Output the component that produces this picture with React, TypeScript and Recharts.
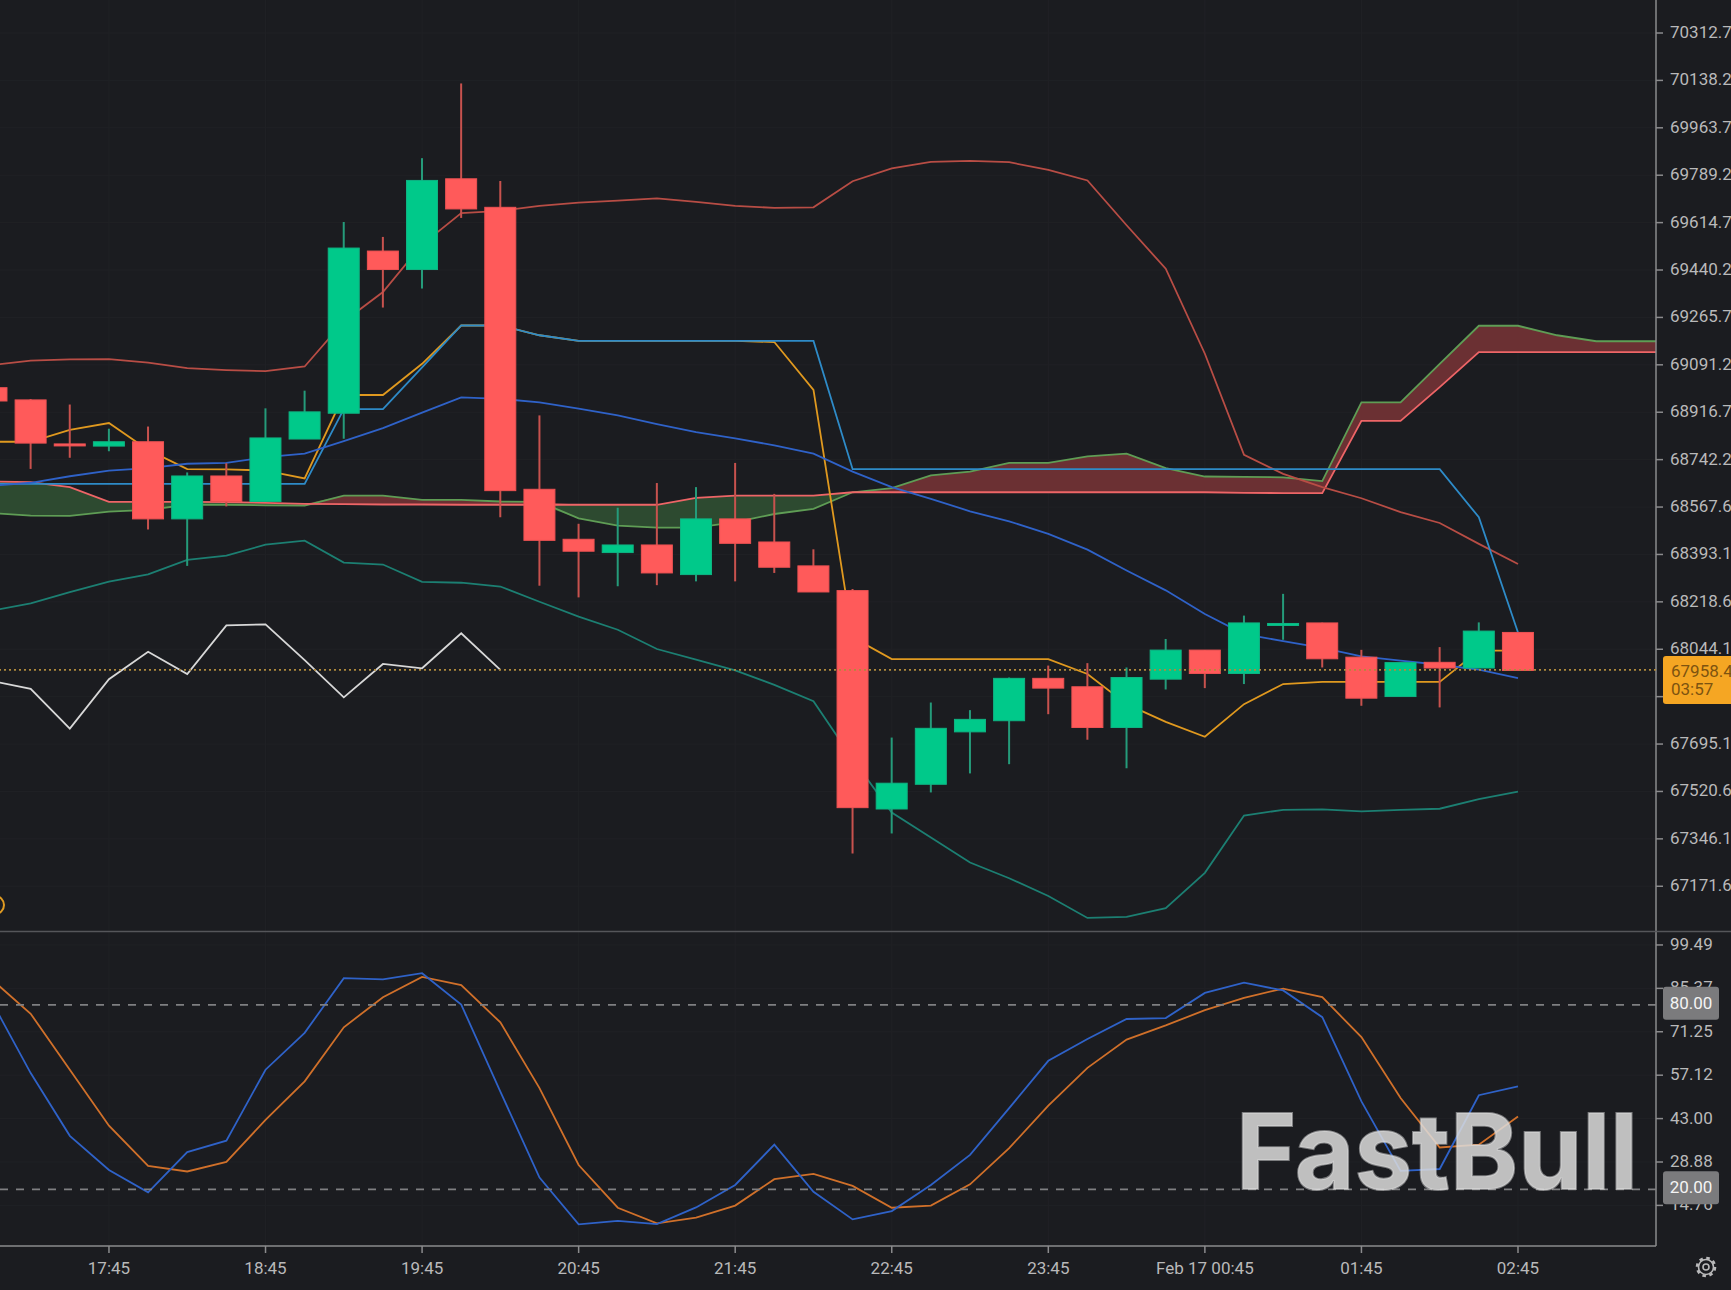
// BTC 15m chart: candles + Bollinger + Ichimoku, stochastic pane below
import React from "react";
import {
  ComposedChart,
  Bar,
  Line,
  Area,
  XAxis,
  YAxis,
  CartesianGrid,
  ReferenceLine,
} from "recharts";

// ─── Candles (index 39 is the 02:45 bar) ──────────────────────────────────────

const opens = [69007, 68962, 68800, 68792, 68808, 68524, 68682, 68588, 68818, 68913, 69510, 69442, 69776, 69671, 68633, 68449, 68400, 68428, 68319, 68524, 68439, 68351, 68260, 67456, 67547, 67740, 67781, 67937, 67906, 67756, 67934, 68041, 67955, 68137, 68141, 68015, 67870, 67996, 67975, 68106];
const closes = [68958, 68803, 68798, 68808, 68524, 68682, 68588, 68822, 68918, 69521, 69442, 69770, 69665, 68628, 68445, 68405, 68428, 68325, 68524, 68434, 68346, 68255, 67461, 67551, 67753, 67786, 67937, 67901, 67756, 67940, 68041, 67955, 68141, 68139, 68009, 67864, 67995, 67975, 68111, 67966];
const highs = [69010, 68965, 68945, 68856, 68864, 68695, 68729, 68931, 68996, 69617, 69562, 69852, 70127, 69768, 68905, 68506, 68565, 68656, 68641, 68730, 68616, 68412, 68266, 67719, 67848, 67820, 67940, 67984, 67993, 67977, 68082, 68041, 68168, 68248, 68142, 68042, 67995, 68052, 68143, 68106];
const lows = [68955, 68708, 68749, 68773, 68485, 68351, 68570, 68588, 68818, 68819, 69302, 69372, 69632, 68530, 68278, 68235, 68276, 68280, 68294, 68294, 68325, 68255, 67292, 67366, 67517, 67587, 67621, 67805, 67711, 67606, 67896, 67901, 67916, 68079, 67977, 67836, 67870, 67830, 67975, 67966];

// ─── Bollinger ────────────────────────────────────────────────────────────────

const bollUpper = [69090, 69107, 69111, 69112, 69099, 69079, 69072, 69068, 69085, 69251, 69359, 69534, 69650, 69658, 69676, 69688, 69696, 69704, 69691, 69676, 69669, 69671, 69767, 69814, 69838, 69842, 69837, 69809, 69770, 69605, 69445, 69132, 68760, 68690, 68641, 68600, 68549, 68509, 68432, 68358];
const bollMiddle = [68646, 68657, 68681, 68702, 68711, 68727, 68730, 68751, 68764, 68810, 68858, 68915, 68971, 68966, 68953, 68930, 68905, 68873, 68843, 68820, 68795, 68764, 68698, 68641, 68598, 68552, 68515, 68469, 68411, 68334, 68261, 68174, 68100, 68074, 68049, 68018, 68002, 67987, 67969, 67938];
const bollLower = [68186, 68213, 68254, 68293, 68320, 68373, 68389, 68429, 68444, 68363, 68356, 68292, 68289, 68275, 68219, 68164, 68116, 68045, 68006, 67966, 67913, 67853, 67640, 67443, 67351, 67259, 67201, 67136, 67055, 67059, 67091, 67221, 67432, 67453, 67455, 67447, 67453, 67457, 67492, 67520];

// ─── Ichimoku ─────────────────────────────────────────────────────────────────

const tenkan = [68808, 68808, 68852, 68877, 68778, 68707, 68706, 68702, 68673, 68980, 68980, 69095, 69236, 69236, 69200, 69179, 69179, 69179, 69179, 69179, 69175, 68999, 68088, 68008, 68008, 68008, 68008, 68008, 67953, 67842, 67777, 67722, 67842, 67916, 67924, 67924, 67924, 67924, 68039, 68039];
const kijun = [68653, 68653, 68653, 68653, 68653, 68653, 68653, 68653, 68653, 68928, 68928, 69082, 69236, 69236, 69200, 69179, 69179, 69179, 69179, 69179, 69179, 69179, 68707, 68707, 68707, 68707, 68707, 68707, 68707, 68707, 68707, 68707, 68707, 68707, 68707, 68707, 68707, 68707, 68530, 68106];
const chikou = [67928, 67898, 67752, 67934, 68035, 67953, 68132, 68136, 68004, 67867, 67990, 67974, 68103, 67968];
const spanA = [68545, 68536, 68535, 68551, 68557, 68576, 68576, 68574, 68573, 68610, 68610, 68594, 68594, 68588, 68587, 68526, 68499, 68492, 68492, 68512, 68542, 68561, 68622, 68637, 68684, 68698, 68730, 68730, 68754, 68764, 68711, 68680, 68679, 68677, 68663, 68953, 68953, 69095, 69235, 69235, 69200, 69178, 69178, 69178];
const spanB = [68662, 68659, 68641, 68587, 68587, 68587, 68586, 68583, 68579, 68578, 68577, 68577, 68576, 68576, 68576, 68576, 68576, 68576, 68601, 68610, 68610, 68610, 68622, 68622, 68622, 68622, 68622, 68622, 68622, 68622, 68622, 68622, 68620, 68619, 68619, 68885, 68885, 69009, 69138, 69138, 69138, 69138, 69138, 69138];

// ─── Stochastic ───────────────────────────────────────────────────────────────

const stochK = [81.2, 57.8, 37.4, 26.3, 19.0, 32.1, 35.8, 58.9, 70.9, 88.7, 88.3, 90.3, 80.1, 51.8, 23.8, 8.6, 9.7, 8.7, 14.1, 21.4, 34.5, 19.2, 10.2, 12.9, 21.4, 31.2, 46.4, 61.8, 68.9, 75.4, 75.7, 83.9, 87.2, 84.7, 76.0, 48.6, 26.0, 26.6, 50.6, 53.5];
const stochD = [88.3, 77.1, 58.9, 40.7, 27.6, 25.8, 28.9, 42.6, 55.1, 72.7, 82.5, 89.1, 86.4, 74.3, 52.9, 27.9, 14.0, 8.9, 10.8, 14.7, 23.3, 25.0, 21.1, 14.0, 14.7, 21.6, 33.4, 47.2, 59.5, 68.7, 73.3, 78.3, 82.3, 85.3, 82.5, 69.5, 49.7, 33.6, 34.5, 43.7];

// ─── Axes ─────────────────────────────────────────────────────────────────────

const timeTicks = [3, 7, 11, 15, 19, 23, 27, 31, 35, 39];
const timeLabels = ["17:45", "18:45", "19:45", "20:45", "21:45", "22:45", "23:45", "Feb 17 00:45", "01:45", "02:45"];
const priceTicks = [70312.7, 70138.2, 69963.7, 69789.2, 69614.7, 69440.2, 69265.7, 69091.2, 68916.7, 68742.2, 68567.6, 68393.1, 68218.6, 68044.1, 67869.6, 67695.1, 67520.6, 67346.1, 67171.6];
const tickUnderTag = 67869.6; // sits fully behind the last-price tag
const stochTicks = [99.49, 85.37, 71.25, 57.12, 43.0, 28.88, 14.76];
const lastLevel = 67968;
const lastPrice = "67958.4";
const countdown = "03:57";

const xDomain = [0.216, 42.526];
const priceDomain = [67006.9, 70434.2];
const stochDomain = [1.55, 104.03];

const rows = spanA.map((_, i) => ({
  i,
  open: opens[i],
  close: closes[i],
  high: highs[i],
  low: lows[i],
  upper: bollUpper[i],
  middle: bollMiddle[i],
  lower: bollLower[i],
  tenkan: tenkan[i],
  kijun: kijun[i],
  chikou: chikou[i],
  spanA: spanA[i],
  spanB: spanB[i],
  cloudBear: spanA[i] > spanB[i] ? [spanB[i], spanA[i]] : [spanB[i], spanB[i]],
  cloudBull: spanA[i] < spanB[i] ? [spanA[i], spanB[i]] : [spanB[i], spanB[i]],
  k: stochK[i],
  d: stochD[i],
}));

// ─── Colours ──────────────────────────────────────────────────────────────────

const BG = "#1b1c20";
const GRID = "#202125";
const AXIS = "#8b8b8d";
const TEXT = "#b9b9ba";
const FONT = "Roboto, 'Noto Sans', sans-serif";
const MARGIN = { top: 0, right: 0, bottom: 0, left: 0 };

// ─── Marks ────────────────────────────────────────────────────────────────────

const Candle = ({ x, y, width, height, payload }: any) => {
  if (payload.open === undefined || !height) return null;
  const toY = (v: number) => y + ((payload.high - v) / (payload.high - payload.low)) * height;
  const up = payload.close >= payload.open;
  const top = toY(Math.max(payload.open, payload.close));
  const bottom = toY(Math.min(payload.open, payload.close));
  const cx = x + width / 2;
  return (
    <g>
      <line x1={cx} x2={cx} y1={y} y2={y + height} stroke={up ? "#259b7a" : "#c8524e"} strokeWidth={2} />
      <rect
        x={x}
        y={top}
        width={width}
        height={Math.max(bottom - top, 2)}
        fill={up ? "#00c98a" : "#ff5a5a"}
        stroke={up ? "#0fb483" : "#ee5253"}
        strokeWidth={1}
      />
    </g>
  );
};

const PriceTag = ({ viewBox }: any) => {
  const y = viewBox.y;
  return (
    <g fontFamily={FONT} fontSize={17} fill="#7d5310">
      <rect x={1663} y={y - 14} width={72} height={48} rx={3} fill="#f5a623" />
      <text x={1671} y={y + 7}>{lastPrice}</text>
      <text x={1671} y={y + 25}>{countdown}</text>
    </g>
  );
};

const LevelTag = ({ viewBox, text }: any) => (
  <g fontFamily={FONT} fontSize={17}>
    <rect x={1663} y={viewBox.y - 18} width={56} height={33} rx={3} fill="#7b7b7d" />
    <text x={1691} y={viewBox.y + 4} fill="#f4f4f4" textAnchor="middle">{text}</text>
  </g>
);

const Overlay = () => (
  <svg width={1731} height={1290} style={{ position: "absolute", left: 0, top: 0, pointerEvents: "none" }}>
    <line x1={0} x2={1731} y1={931.5} y2={931.5} stroke="#55565a" strokeWidth={1.5} />
    <circle cx={-5} cy={905} r={9} fill="none" stroke="#e09b22" strokeWidth={2} />
    <text
      x={1236}
      y={1189}
      fontFamily="Inter, Lato, sans-serif"
      fontWeight={700}
      fontSize={105}
      textLength={402}
      lengthAdjust="spacingAndGlyphs"
      fill="#dcdcdc"
      fillOpacity={0.85}
      stroke="#dcdcdc"
      strokeOpacity={0.5}
      strokeWidth={2}
    >
      FastBull
    </text>
    <g fill="none" stroke="#b9b9ba" strokeWidth={1.6}>
      <circle cx={1706} cy={1267} r={7.5} />
      <circle cx={1706} cy={1267} r={9} strokeWidth={2.6} strokeDasharray="3.5 3.57" />
      <circle cx={1706} cy={1267} r={3} />
    </g>
  </svg>
);

// ─── App ──────────────────────────────────────────────────────────────────────

export default function App() {
  const tick = { fill: TEXT, fontSize: 17, fontFamily: FONT };
  const yTick = { ...tick, dy: -1 };
  const lineProps = { dot: false, strokeWidth: 1.8, isAnimationActive: false };
  return (
    <div style={{ position: "fixed", left: 0, top: 0, width: 1731, height: 1290, background: BG, overflow: "hidden" }}>
      <div style={{ position: "absolute", left: 0, top: 0 }}>
        <ComposedChart width={1731} height={931} data={rows} margin={MARGIN}>
          <CartesianGrid stroke={GRID} verticalValues={timeTicks} horizontalValues={priceTicks} />
          <XAxis dataKey="i" type="number" domain={xDomain} ticks={timeTicks} allowDataOverflow hide />
          <YAxis
            orientation="right"
            width={75}
            domain={priceDomain}
            ticks={priceTicks}
            interval={0}
            allowDataOverflow
            tick={yTick}
            tickSize={7}
            tickMargin={7}
            tickLine={{ stroke: AXIS, strokeWidth: 1.5 }}
            axisLine={{ stroke: AXIS, strokeWidth: 1.5 }}
            tickFormatter={(v: number) => (v === tickUnderTag ? "" : v.toFixed(1))}
          />

          <Area dataKey="cloudBear" stroke="none" fill="#6b3033" fillOpacity={1} isAnimationActive={false} dot={false} activeDot={false} />
          <Area dataKey="cloudBull" stroke="none" fill="#2d4a30" fillOpacity={1} isAnimationActive={false} dot={false} activeDot={false} />

          <Line dataKey="spanA" stroke="#5f9d55" {...lineProps} />
          <Line dataKey="spanB" stroke="#ee6567" {...lineProps} />
          <Line dataKey="upper" stroke="#b84d45" {...lineProps} />
          <Line dataKey="lower" stroke="#1c7f72" {...lineProps} />
          <Line dataKey="tenkan" stroke="#e0991f" {...lineProps} />
          <Line dataKey="kijun" stroke="#2e8bc8" {...lineProps} />
          <Line dataKey="middle" stroke="#2f62c8" {...lineProps} />
          <Line dataKey="chikou" stroke="#d8d8d8" {...lineProps} />

          <Bar
            dataKey={(d: any) => (d.open === undefined ? null : [d.low, d.high])}
            barSize={31}
            shape={<Candle />}
            isAnimationActive={false}
            zIndex={450}
          />
        </ComposedChart>
      </div>

      <div style={{ position: "absolute", left: 0, top: 931 }}>
        <ComposedChart width={1731} height={359} data={rows} margin={MARGIN}>
          <CartesianGrid stroke={GRID} verticalValues={timeTicks} horizontalValues={stochTicks} />
          <XAxis
            dataKey="i"
            type="number"
            height={44}
            domain={xDomain}
            ticks={timeTicks}
            interval={0}
            allowDataOverflow
            tick={tick}
            tickSize={7}
            tickMargin={9}
            tickLine={{ stroke: AXIS, strokeWidth: 1.5 }}
            axisLine={{ stroke: AXIS, strokeWidth: 1.5 }}
            tickFormatter={(v: number) => timeLabels[timeTicks.indexOf(v)]}
          />
          <YAxis
            orientation="right"
            width={75}
            domain={stochDomain}
            ticks={stochTicks}
            interval={0}
            allowDataOverflow
            tick={yTick}
            tickSize={7}
            tickMargin={7}
            tickLine={{ stroke: AXIS, strokeWidth: 1.5 }}
            axisLine={{ stroke: AXIS, strokeWidth: 1.5 }}
            tickFormatter={(v: number) => v.toFixed(2)}
          />
          <Line dataKey="d" stroke="#d0702a" {...lineProps} />
          <Line dataKey="k" stroke="#2f62c8" {...lineProps} />
        </ComposedChart>
      </div>

      {/* Second layer on the same scales, so the tags cover the axis labels */}
      <div style={{ position: "absolute", left: 0, top: 0 }}>
        <ComposedChart width={1731} height={931} data={rows} margin={MARGIN}>
          <XAxis dataKey="i" type="number" domain={xDomain} allowDataOverflow hide />
          <YAxis orientation="right" width={75} domain={priceDomain} allowDataOverflow tick={false} tickLine={false} axisLine={false} />
          <ReferenceLine y={lastLevel} stroke="#b08a3c" strokeWidth={1.8} strokeDasharray="2 3" label={<PriceTag />} />
        </ComposedChart>
      </div>
      <div style={{ position: "absolute", left: 0, top: 931 }}>
        <ComposedChart width={1731} height={359} data={rows} margin={MARGIN}>
          <XAxis dataKey="i" type="number" height={44} domain={xDomain} allowDataOverflow tick={false} tickLine={false} axisLine={false} />
          <YAxis orientation="right" width={75} domain={stochDomain} allowDataOverflow tick={false} tickLine={false} axisLine={false} />
          <ReferenceLine y={80} stroke="#7f7f81" strokeWidth={1.8} strokeDasharray="8 8" label={<LevelTag text="80.00" />} />
          <ReferenceLine y={20} stroke="#7f7f81" strokeWidth={1.8} strokeDasharray="8 8" label={<LevelTag text="20.00" />} />
        </ComposedChart>
      </div>

      <Overlay />
    </div>
  );
}
